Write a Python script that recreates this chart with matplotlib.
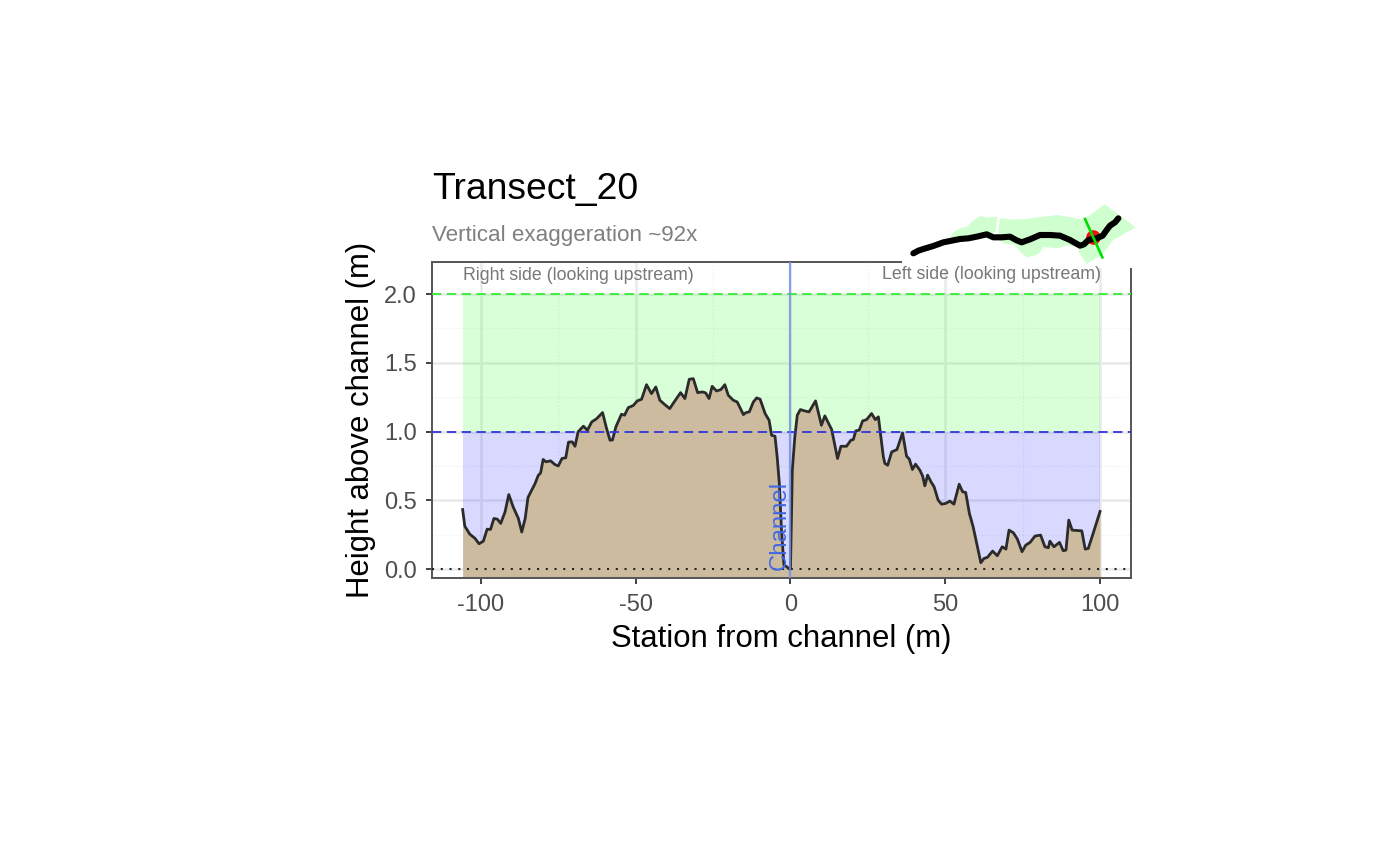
import matplotlib
matplotlib.use("Agg")
import matplotlib.pyplot as plt
import numpy as np

plt.rcParams["font.family"] = ["Liberation Sans", "DejaVu Sans"]
plt.rcParams["axes.unicode_minus"] = False

# profile
station = [-105.9, -105.2, -103.6, -101.9, -100.6, -99.2, -98, -96.9, -95.8, -94.7, -93.6, -92.2, -91, -89.6,
           -87.9, -86.8, -85.7, -84.8, -83.6, -82.6, -81.5, -80.7, -79.9, -79, -77.5, -76.1, -75, -73.8, -72.6,
           -71.7, -70.5, -69.6, -68.6, -66.9, -65.6, -64.2, -62.6, -60.7, -59.4, -58.3, -57.5, -56.4, -54.6,
           -53.6, -52.4, -50.8, -49.5, -48.1, -46.5, -44.9, -43.5, -42.2, -40.6, -39, -37.7, -35.5, -34.1,
           -32.7, -31.4, -30, -28.4, -27.4, -26.3, -25.3, -23.9, -22.5, -21.2, -20.1, -18.5, -17.2, -15.2,
           -14.4, -13.3, -12, -10.9, -9.8, -8.2, -6.9, -6.1, -5, -4.3, -3.6, -2.9, -2.1, -1.2, -0.4,
           0, 0.6, 1.4, 2.2, 3.2, 4.6, 6, 8.1, 10, 11.1, 13.3, 15.2, 16.3, 18.1, 19.5, 20.3, 21.1, 22.2, 23.3,
           24.6, 26.2, 27.4, 28.4, 30, 30.5, 31.4, 32.7, 34.4, 36.2, 37.5, 38.4, 39.4, 40.4, 41.8, 42.7, 43.4,
           44.3, 45.4, 46.4, 47.7, 48.8, 50.1, 51.5, 52.8, 54.5, 55.6, 56.6, 57.8, 59, 61.5, 62.5, 63.6, 65.3,
           66.8, 68.4, 69.6, 70.6, 72, 73.3, 74.8, 76, 77.4, 79, 80.8, 82.2, 83.3, 83.8, 85.1, 86.9, 88.1, 89,
           89.9, 91, 94.1, 95.2, 96.2, 97.6, 100]
height = [.433, .312, .254, .223, .184, .203, .29, .288, .368, .363, .332, .416, .542, .453,
          .368, .269, .368, .52, .574, .617, .68, .70, .797, .78, .787, .76, .75, .804, .809,
          .923, .925, .893, .998, 1.039, 1.01, 1.07, 1.094, 1.138, 1.022, .937, .939, 1.034, 1.126,
          1.119, 1.174, 1.189, 1.223, 1.235, 1.341, 1.276, 1.324, 1.228, 1.196, 1.167, 1.211, 1.283, 1.24,
          1.38, 1.385, 1.283, 1.288, 1.281, 1.24, 1.329, 1.295, 1.305, 1.341, 1.264, 1.228, 1.215, 1.123,
          1.138, 1.143, 1.215, 1.245, 1.235, 1.131, 1.082, .973, .966, .816, .622, .283, .029, .017, 0,
          0, .72, .96, 1.119, 1.16, 1.15, 1.143, 1.223, 1.046, 1.114, 1.015, .804, .893, .893, .937, .942, 1.005, 1.01, 1.077,
          1.087, 1.131, 1.087, 1.107, .816, .768, .755, .852, .869, .99, .821, .799, .724, .763, .719, .676, .605,
          .683, .634, .598, .501, .472, .477, .494, .472, .617, .562, .557, .404, .308, .046, .077, .085, .131,
          .097, .162, .145, .283, .264, .218, .126, .174, .194, .24, .247, .162, .155, .203, .162, .194, .133, .138,
          .356, .283, .278, .145, .15, .247, .419]

# locator map, in its own units
buffer_a_x = [212, 225, 240, 262, 270, 290, 300, 325, 352, 347, 310, 260, 215]
buffer_a_y = [122, 108, 100, 95, 85, 70, 63, 68, 65, 112, 118, 125, 130]
buffer_b_x = [360, 400, 440, 490, 530, 570, 612, 618, 600, 560, 530, 490, 480, 470, 440, 425, 405, 370, 352]
buffer_b_y = [70, 74, 72, 65, 60, 66, 75, 125, 155, 152, 160, 155, 172, 180, 187, 175, 150, 145, 128]
buffer_c_x = [612, 675, 767, 700, 665, 620, 595, 600, 618]
buffer_c_y = [72, 28, 97, 135, 180, 207, 170, 150, 125]
stream_x = [100, 115, 130, 160, 190, 215, 240, 265, 290, 320, 340, 365, 390, 408, 425, 450, 480, 510, 540, 570, 600, 612, 625, 650, 668, 680, 690, 705, 715]
stream_y = [175, 167, 162, 153, 142, 137, 132, 130, 125, 118, 127, 127, 125, 135, 142, 133, 120, 120, 122, 135, 152, 148, 135, 130, 122, 105, 92, 82, 70]
transect_x = [615, 667]
transect_y = [72, 187]
point_x = [638]
point_y = [127]

W, H = 1400, 865


def box(left, top, right, bottom):
    return [left / W, 1 - bottom / H, (right - left) / W, (bottom - top) / H]


fig = plt.figure(figsize=(14, 8.65), dpi=100)
ax = fig.add_axes(box(432, 262, 1131, 578))
ax.set_xlim(-115.8, 110)
ax.set_ylim(-0.065, 2.233)

ax.set_axisbelow(True)
ax.set_xticks([-100, -50, 0, 50, 100])
ax.set_yticks([0, 0.5, 1, 1.5, 2])
ax.set_yticklabels(["0.0", "0.5", "1.0", "1.5", "2.0"])
ax.set_xticks([-75, -25, 25, 75], minor=True)
ax.set_yticks([0.25, 0.75, 1.25, 1.75], minor=True)
ax.grid(which="major", color="#EAEAEA", lw=1.8)
ax.grid(which="minor", color="#EEEEEE", lw=0.9, ls=":")
ax.tick_params(which="minor", length=0)
ax.tick_params(axis="x", which="major", length=4.5, width=1.3, color="#333333", labelcolor="#4D4D4D", labelsize=17, pad=7)
ax.tick_params(axis="y", which="major", length=4.5, width=1.3, color="#333333", labelcolor="#4D4D4D", labelsize=17, pad=6.5)

x0 = min(station)
x1 = max(station)
ymin = ax.get_ylim()[0]
ax.fill_between([x0, x1], 1, 2, color="#00FF00", alpha=0.15, lw=0)
ax.fill_between([x0, x1], ymin, 1, color="#0000FF", alpha=0.15, lw=0)
ax.fill_between(station, ymin, height, color="#CDBBA0", lw=0, zorder=2.2)
ax.plot(station, height, color="#2B2B2B", lw=2.0, zorder=3)

ax.axhline(2, color="#33EE33", lw=1.3, ls=(0, (5.2, 3)), zorder=3)
ax.axhline(1, color="#3333DD", lw=1.3, ls=(0, (5.2, 3)), zorder=3)
ax.axhline(0, color="#222222", lw=1.5, ls=(0, (1, 3.2)), zorder=3)
ax.axvline(0, color="#6F8FE8", lw=1.6, alpha=0.8, zorder=3)

ax.text(-3.6, -0.005, "Channel", rotation=90, color="#4169E1", fontsize=17.3, ha="center", va="bottom", zorder=4)
ax.text(x0, 2.135, "Right side (looking upstream)", color="#777777", fontsize=12.8, ha="left", va="center", zorder=6)

for s in ax.spines.values():
    s.set_color("#555555")
    s.set_linewidth(1.4)

ax.set_xlabel("Station from channel (m)", fontsize=22.4, labelpad=6)
ax.set_ylabel("Height above channel (m)", fontsize=22.4, labelpad=5.5)

fig.text(432 / W, 1 - 189 / H, "Transect_20", fontsize=26.8, color="black", ha="left", va="center")
fig.text(432 / W, 1 - 235 / H, "Vertical exaggeration ~92x", fontsize=16.1, color="#7F7F7F", ha="left", va="center")

# locator map sits over the corner of the panel
inset = fig.add_axes(box(902, 195, 1140, 268), zorder=5)
inset.set_xlim(66, 780)
inset.set_ylim(219, 0)
inset.axis("off")
inset.add_patch(plt.Rectangle((0, 0), 1, 1, transform=inset.transAxes, color="white", lw=0, zorder=0))
inset.fill(buffer_a_x, buffer_a_y, color="#CFFFCF", lw=0)
inset.fill(buffer_b_x, buffer_b_y, color="#CFFFCF", lw=0)
inset.fill(buffer_c_x, buffer_c_y, color="#CFFFCF", lw=0)
inset.scatter(point_x, point_y, s=110, color="#EE1111", lw=0, zorder=3)
inset.plot(stream_x, stream_y, color="black", lw=4.4, solid_capstyle="round", solid_joinstyle="round", zorder=4)
inset.plot(transect_x, transect_y, color="#00DD00", lw=1.9, zorder=5)

# this one has to stay on top of the map's white background
fig.text(1101 / W, 1 - 274.5 / H, "Left side (looking upstream)", color="#777777", fontsize=12.8, ha="right", va="center", zorder=6)

fig.savefig("out.png", dpi=100)
plt.close(fig)
